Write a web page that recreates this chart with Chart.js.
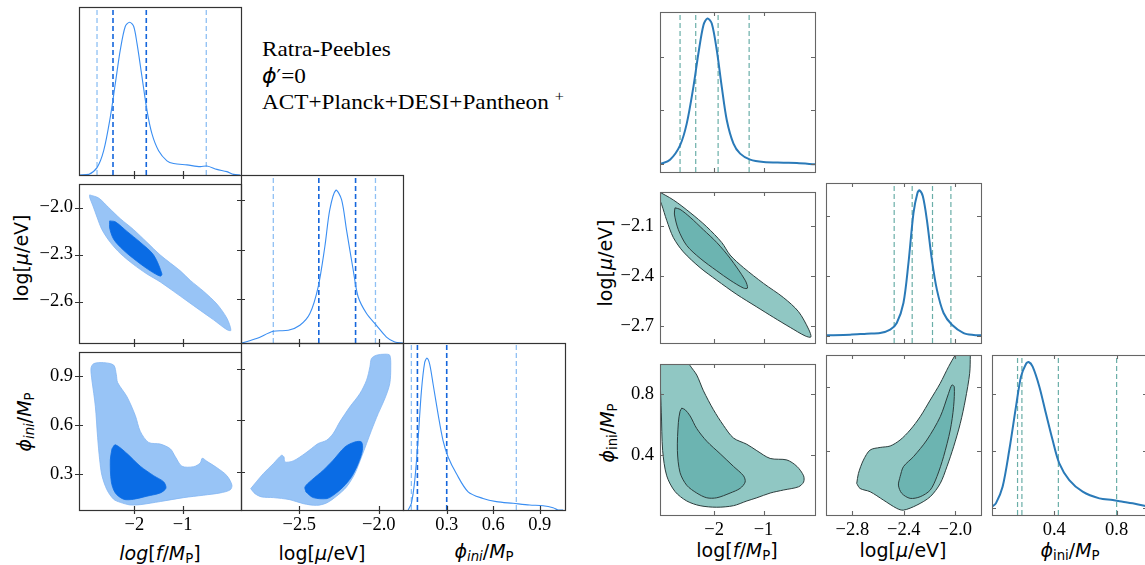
<!DOCTYPE html>
<html>
<head>
<meta charset="utf-8">
<script src="https://cdn.jsdelivr.net/npm/chart.js@4.4.1/dist/chart.umd.min.js"></script>
<style>
  html, body { margin: 0; padding: 0; background: #fff; width: 1145px; height: 565px; overflow: hidden; }
  canvas { position: absolute; }
  .t { position: absolute; font-family: "DejaVu Sans"; font-size: 19px; line-height: 1; color: #000;
       white-space: nowrap; transform: translate(-50%, -50%); }
  .t.r { transform: translate(-50%, -50%) rotate(-90deg); }
  .t sub { font-size: 0.7em; vertical-align: -0.3em; line-height: 0; }
  .note { position: absolute; left: 262px; top: 36px; font-family: "Liberation Serif", serif; font-size: 22px;
          line-height: 26.5px; color: #000; white-space: nowrap; transform: scaleX(1.055); transform-origin: left top; }
  .note sup { font-size: 0.7em; vertical-align: 0.55em; line-height: 0; }
</style>
</head>
<body>

<div class="note">Ratra-Peebles<br><i style="font-family:'DejaVu Sans';font-size:21px">ϕ</i><span style="font-family:'DejaVu Sans';font-size:19px">′</span>=0<br>ACT+Planck+DESI+Pantheon <sup>+</sup></div>

<div class="t" style="left:160px;top:553px"><i>log</i>[<i>f</i>/<i>M</i><sub>P</sub>]</div>
<div class="t" style="left:322px;top:553px">log[<i>μ</i>/eV]</div>
<div class="t" style="left:484px;top:551px"><i>ϕ<sub>ini</sub></i>/<i>M</i><sub>P</sub></div>
<div class="t r" style="left:21px;top:258px">log[<i>μ</i>/eV]</div>
<div class="t r" style="left:24px;top:422px"><i>ϕ<sub>ini</sub></i>/<i>M</i><sub>P</sub></div>

<div class="t" style="left:737px;top:550px">log[<i>f</i>/<i>M</i><sub>P</sub>]</div>
<div class="t" style="left:903px;top:550px">log[<i>μ</i>/eV]</div>
<div class="t" style="left:1070px;top:550px"><i>ϕ</i><sub>ini</sub>/<i>M</i><sub>P</sub></div>
<div class="t r" style="left:605px;top:263px">log[<i>μ</i>/eV]</div>
<div class="t r" style="left:607px;top:433px"><i>ϕ</i><sub>ini</sub>/<i>M</i><sub>P</sub></div>

<script>
// ---------- left corner plot (blue) ----------
// tick values
const lFTicks = [-2, -1];
const lMuTicks = [-2.5, -2.0];
const lPhiTicks = [0.3, 0.6, 0.9];
const lMuRowTicks = [-2.6, -2.3, -2.0];
const lPhiRowTicks = [0.3, 0.6, 0.9];
const lDensMuTicks = [0.287, 0.611, 0.938];

// 1D marginals
const lFGrid = [-3.145, -2.945, -2.772, -2.634, -2.497, -2.393, -2.290, -2.186, -2.097, -2.014, -1.945, -1.841,
                -1.738, -1.634, -1.497, -1.324, -1.186, -0.910, -0.634, -0.497, -0.290, -0.083, 0.055, 0.193];
const lFDens = [0, 0.004, 0.048, 0.159, 0.379, 0.599, 0.819, 0.974, 1.0, 0.974, 0.863, 0.643,
                0.423, 0.269, 0.159, 0.093, 0.075, 0.066, 0.055, 0.059, 0.037, 0.022, 0.004, 0];
const lMuGrid = [-2.862, -2.768, -2.663, -2.569, -2.496, -2.433, -2.381, -2.339, -2.308, -2.270, -2.234, -2.203,
                 -2.161, -2.130, -2.077, -2.015, -1.952, -1.900, -1.847];
const lMuDens = [0, 0.029, 0.077, 0.083, 0.116, 0.193, 0.368, 0.632, 0.873, 1.0, 0.939, 0.741,
                 0.478, 0.303, 0.193, 0.116, 0.039, 0.007, 0];
const lPhiGrid = [0.051, 0.072, 0.094, 0.115, 0.137, 0.158, 0.173, 0.190, 0.212, 0.244, 0.276, 0.309,
                  0.362, 0.438, 0.534, 0.620, 0.728, 0.835, 0.922, 0.986, 1.018, 1.051];
const lPhiDens = [0, 0.044, 0.197, 0.459, 0.786, 0.972, 1.0, 0.961, 0.830, 0.633, 0.459, 0.349,
                  0.240, 0.120, 0.076, 0.055, 0.044, 0.033, 0.028, 0.015, 0, 0];

// credible limits (68% dark, 95% light)
const lFLim68 = [-2.441, -1.752], lFLim95 = [-2.772, -0.510];
const lMuLim68 = [-2.377, -2.146], lMuLim95 = [-2.663, -2.021];
const lPhiLim68 = [0.111, 0.300], lPhiLim95 = [0.072, 0.749];

// 2D contours [x, y]
const lFMuOuter = [[-2.924,-1.919],[-2.738,-1.939],[-2.531,-2.000],[-2.290,-2.071],[-2.014,-2.141],[-1.738,-2.222],
  [-1.462,-2.303],[-1.255,-2.354],[-1.048,-2.404],[-0.841,-2.465],[-0.566,-2.535],[-0.290,-2.616],[-0.083,-2.707],
  [0.000,-2.784],[-0.083,-2.780],[-0.359,-2.717],[-0.634,-2.657],[-0.910,-2.596],[-1.186,-2.535],[-1.462,-2.475],
  [-1.738,-2.424],[-2.014,-2.364],[-2.290,-2.293],[-2.497,-2.222],[-2.669,-2.141],[-2.772,-2.061],[-2.855,-1.990],
  [-2.924,-1.935]];
const lFMuInner = [[-2.510,-2.085],[-2.393,-2.091],[-2.152,-2.152],[-1.876,-2.222],[-1.600,-2.303],[-1.428,-2.424],
  [-1.462,-2.438],[-1.669,-2.404],[-1.945,-2.343],[-2.221,-2.273],[-2.428,-2.202],[-2.510,-2.131]];
const lFPhiOuter = [[-2.876,0.872],[-2.897,0.949],[-2.841,0.978],[-2.634,0.984],[-2.428,0.969],[-2.372,0.910],
  [-2.345,0.862],[-2.152,0.775],[-1.979,0.659],[-1.876,0.562],[-1.703,0.494],[-1.462,0.484],[-1.255,0.455],
  [-1.152,0.407],[-1.014,0.348],[-0.772,0.345],[-0.634,0.368],[-0.593,0.397],[-0.497,0.378],[-0.290,0.339],
  [-0.083,0.290],[0.021,0.232],[-0.014,0.203],[-0.221,0.184],[-0.566,0.170],[-0.979,0.155],[-1.462,0.131],
  [-1.876,0.112],[-2.083,0.110],[-2.290,0.126],[-2.428,0.145],[-2.566,0.203],[-2.669,0.290],[-2.717,0.387],
  [-2.759,0.523],[-2.807,0.717]];
const lFPhiInner = [[-2.462,0.455],[-2.393,0.480],[-2.152,0.426],[-1.876,0.348],[-1.600,0.290],[-1.393,0.252],
  [-1.345,0.213],[-1.462,0.184],[-1.738,0.164],[-2.014,0.145],[-2.221,0.145],[-2.393,0.184],[-2.476,0.252],
  [-2.497,0.387]];
const lMuPhiOuter = [[-2.805,0.203],[-2.726,0.290],[-2.663,0.348],[-2.611,0.397],[-2.596,0.387],[-2.590,0.358],
  [-2.538,0.364],[-2.464,0.407],[-2.423,0.436],[-2.381,0.465],[-2.328,0.484],[-2.287,0.523],[-2.245,0.591],
  [-2.182,0.678],[-2.119,0.755],[-2.077,0.833],[-2.056,0.910],[-2.046,0.959],[-2.015,0.978],[-1.962,0.984],
  [-1.931,0.978],[-1.925,0.910],[-1.931,0.814],[-1.962,0.726],[-2.004,0.639],[-2.046,0.542],[-2.077,0.465],
  [-2.109,0.387],[-2.151,0.290],[-2.203,0.213],[-2.266,0.159],[-2.328,0.120],[-2.391,0.106],[-2.475,0.116],
  [-2.559,0.139],[-2.663,0.151],[-2.736,0.155],[-2.778,0.174]];
const lMuPhiInner = [[-2.458,0.184],[-2.464,0.213],[-2.423,0.252],[-2.349,0.310],[-2.287,0.368],[-2.213,0.445],
  [-2.151,0.474],[-2.109,0.474],[-2.103,0.426],[-2.130,0.348],[-2.172,0.271],[-2.224,0.213],[-2.287,0.164],
  [-2.328,0.145],[-2.412,0.151]];

// ---------- right corner plot (teal) ----------
const rFTicks = [-2, -1];
const rMuTicks = [-2.8, -2.4, -2.0];
const rPhiTicks = [0.4, 0.8];
const rMuRowTicks = [-2.7, -2.4, -2.1];
const rPhiRowTicks = [0.4, 0.8];
const rDensTicks = [0, 1, 2];

const rFGrid = [-3.095, -2.892, -2.689, -2.554, -2.419, -2.318, -2.216, -2.135, -2.047, -1.946, -1.845, -1.743,
                -1.608, -1.473, -1.270, -1.0, -0.595, -0.324, 0.041];
const rFDens = [-0.01, 0.075, 0.344, 0.75, 1.438, 2.063, 2.594, 2.719, 2.625, 2.125, 1.438, 0.813,
                0.375, 0.188, 0.075, 0.031, 0.019, 0.013, -0.013];
const rMuGrid = [-3.005, -2.818, -2.688, -2.584, -2.506, -2.455, -2.403, -2.364, -2.325, -2.294, -2.278, -2.252,
                 -2.221, -2.182, -2.143, -2.091, -2.026, -1.935, -1.857, -1.8];
const rMuDens = [0.006, 0.017, 0.033, 0.044, 0.1, 0.211, 0.544, 1.211, 2.044, 2.378, 2.422, 2.322,
                 1.933, 1.267, 0.767, 0.378, 0.183, 0.044, 0.011, 0.006];
const rPhiGrid = [0.0, 0.025, 0.068, 0.111, 0.154, 0.186, 0.218, 0.235, 0.261, 0.304, 0.346, 0.389,
                  0.432, 0.496, 0.582, 0.689, 0.775, 0.839, 0.903, 0.978, 1.0];
const rPhiDens = [0.029, 0.087, 0.378, 1.017, 1.773, 2.297, 2.517, 2.552, 2.471, 2.122, 1.657, 1.192,
                  0.785, 0.494, 0.291, 0.174, 0.145, 0.116, 0.087, 0.047, 0.04];

const rFLims = [-2.689, -2.372, -1.919, -1.291];
const rMuLims = [-2.475, -2.335, -2.177, -2.034];
const rPhiLims = [0.164, 0.192, 0.426, 0.8];

const rFMuOuter = [[-3.162,-1.889],[-2.824,-1.946],[-2.486,-2.021],[-2.149,-2.106],[-1.845,-2.200],[-1.676,-2.275],
  [-1.405,-2.350],[-1.0,-2.444],[-0.595,-2.529],[-0.291,-2.613],[-0.088,-2.717],[-0.041,-2.764],[-0.155,-2.758],
  [-0.459,-2.707],[-0.797,-2.647],[-1.135,-2.585],[-1.541,-2.510],[-1.946,-2.425],[-2.284,-2.350],[-2.622,-2.256],
  [-2.824,-2.171],[-2.959,-2.068],[-3.061,-1.974],[-3.162,-1.899]];
const rFMuInner = [[-2.791,-1.993],[-2.689,-2.002],[-2.486,-2.049],[-2.216,-2.124],[-1.946,-2.200],[-1.676,-2.294],
  [-1.372,-2.425],[-1.324,-2.472],[-1.405,-2.472],[-1.676,-2.425],[-1.946,-2.369],[-2.284,-2.294],[-2.554,-2.218],
  [-2.723,-2.124],[-2.804,-2.030]];
const rFPhiOuter = [[-3.128,1.027],[-2.554,1.027],[-2.486,0.986],[-2.351,0.924],[-2.216,0.821],[-2.014,0.697],
  [-1.811,0.594],[-1.608,0.511],[-1.338,0.470],[-1.135,0.428],[-0.865,0.377],[-0.527,0.367],[-0.324,0.325],
  [-0.189,0.263],[-0.189,0.222],[-0.291,0.191],[-0.595,0.170],[-0.865,0.150],[-1.135,0.119],[-1.338,0.098],
  [-1.608,0.067],[-1.946,0.057],[-2.284,0.067],[-2.554,0.098],[-2.791,0.160],[-2.959,0.263],[-3.041,0.428],
  [-3.068,0.676],[-3.095,0.883],[-3.128,0.965]];
const rFPhiInner = [[-2.655,0.707],[-2.588,0.697],[-2.486,0.656],[-2.351,0.573],[-2.149,0.490],[-1.878,0.408],
  [-1.608,0.325],[-1.405,0.263],[-1.372,0.222],[-1.473,0.181],[-1.676,0.150],[-1.946,0.119],[-2.149,0.119],
  [-2.351,0.150],[-2.554,0.201],[-2.689,0.284],[-2.743,0.428],[-2.723,0.614],[-2.689,0.686]];
const rMuPhiOuter = [[-2.766,0.201],[-2.753,0.263],[-2.714,0.346],[-2.662,0.408],[-2.584,0.424],[-2.506,0.433],
  [-2.429,0.470],[-2.351,0.532],[-2.273,0.614],[-2.195,0.717],[-2.117,0.821],[-2.052,0.924],[-2.000,0.996],
  [-1.961,1.037],[-1.883,1.037],[-1.883,0.996],[-1.888,0.883],[-1.922,0.717],[-1.961,0.573],[-2.013,0.428],
  [-2.065,0.305],[-2.117,0.201],[-2.195,0.119],[-2.299,0.067],[-2.403,0.036],[-2.455,0.047],[-2.558,0.098],
  [-2.662,0.150],[-2.740,0.170]];
const rMuPhiInner = [[-2.429,0.243],[-2.403,0.305],[-2.325,0.367],[-2.221,0.470],[-2.117,0.614],[-2.052,0.759],
  [-2.026,0.810],[-2.008,0.800],[-2.013,0.676],[-2.039,0.532],[-2.091,0.367],[-2.143,0.243],[-2.195,0.160],
  [-2.273,0.119],[-2.351,0.109],[-2.416,0.140],[-2.442,0.191]];

// ---------- drawing helpers ----------
const PAD_L = 60, PAD_R = 8, PAD_T = 8, PAD_B = 40;
const TICK_FONT = '"Liberation Serif", "Times New Roman", serif';
const fmt = (v, d) => v.toFixed(d).replace('-', '\u2212');

const framePlugin = {
  id: 'frame',
  afterDraw(chart, args, o) {
    const { ctx, chartArea: a, scales: { x, y } } = chart;
    ctx.save();
    ctx.strokeStyle = o.color;
    ctx.lineWidth = o.width;
    ctx.strokeRect(Math.round(a.left) + 0.5, Math.round(a.top) + 0.5,
                   Math.round(a.right - a.left), Math.round(a.bottom - a.top));
    const L = 4, out = o.mode === 'inout' ? L : 0;
    ctx.beginPath();
    x.ticks.forEach(t => {
      const p = Math.round(x.getPixelForValue(t.value)) + 0.5;
      if (o.x.includes('b')) { ctx.moveTo(p, a.bottom + out); ctx.lineTo(p, a.bottom - L); }
      if (o.x.includes('t')) { ctx.moveTo(p, a.top - out); ctx.lineTo(p, a.top + L); }
    });
    y.ticks.forEach(t => {
      const p = Math.round(y.getPixelForValue(t.value)) + 0.5;
      if (o.y.includes('l')) { ctx.moveTo(a.left - out, p); ctx.lineTo(a.left + L, p); }
      if (o.y.includes('r')) { ctx.moveTo(a.right + out, p); ctx.lineTo(a.right - L, p); }
    });
    ctx.stroke();
    ctx.restore();
  }
};

function axis(dir, range, ticks, dec, labels) {
  return {
    type: 'linear', min: range[0], max: range[1], bounds: 'data',
    grid: { display: false, drawTicks: false },
    border: { display: false },
    afterBuildTicks: s => { s.ticks = ticks.map(v => ({ value: v })); },
    afterFit: s => { if (dir === 'x') s.height = PAD_B; else s.width = PAD_L; },
    ticks: {
      display: labels, autoSkip: false, maxRotation: 0,
      padding: dir === 'x' ? 4 : 6,
      color: '#000',
      font: { family: TICK_FONT, size: 18.5 },
      callback: v => fmt(v, dec)
    }
  };
}

const pts = arr => arr.map(([x, y]) => ({ x, y }));
function region(arr, fill, line, lw, order) {
  const d = pts(arr);
  d.push(d[0]);
  return { data: d, fill: 'shape', backgroundColor: fill, borderColor: line, borderWidth: lw,
           pointRadius: 0, tension: 0.3, order };
}
function curve(xs, ys, color, lw) {
  return { data: xs.map((x, i) => ({ x, y: ys[i] })), fill: false, borderColor: color, borderWidth: lw,
           pointRadius: 0, tension: 0.3, order: 0 };
}
function vline(v, yr, color, lw) {
  return { data: [{ x: v, y: yr[0] }, { x: v, y: yr[1] }], fill: false, borderColor: color, borderWidth: lw,
           borderDash: [5, 3], pointRadius: 0, order: 1 };
}

function panel(box, x, y, datasets, frame) {
  const c = document.createElement('canvas');
  c.width = box[2] + PAD_L + PAD_R;
  c.height = box[3] + PAD_T + PAD_B;
  c.style.left = (box[0] - PAD_L) + 'px';
  c.style.top = (box[1] - PAD_T) + 'px';
  document.body.appendChild(c);
  new Chart(c, {
    type: 'line',
    data: { datasets },
    options: {
      responsive: false, animation: false, events: [],
      layout: { padding: { left: 0, right: PAD_R, top: PAD_T, bottom: 0 } },
      plugins: { legend: { display: false }, tooltip: { enabled: false }, frame },
      scales: { x, y }
    },
    plugins: [framePlugin]
  });
}

// ---------- left corner ----------
const lColX = [[79, 162], [241, 162], [403, 162]];
const lRowY = [[7, 168], [175, 168], [343, 167]];
const lXR = [[-3.145, 0.209], [-2.866, -1.848], [0.018, 1.063]];
const lYR = [null, [-2.865, -1.85], [0.079, 1.049]];
const lDensR = [0, 1.1];
const lBlueLight = '#98c4f6', lBlueDark = '#0a6ce5', lLine = '#3a8ef2';
const lDash68 = '#1566dc', lDash95 = '#8fc0f4';
const lFrame = (xs, ys) => ({ color: '#333', width: 1.2, mode: 'inout', x: xs, y: ys });
const lBox = (r, c) => [lColX[c][0], lRowY[r][0], lColX[c][1], lRowY[r][1]];

panel(lBox(0, 0), axis('x', lXR[0], lFTicks, 0, false), axis('y', lDensR, [], 1, false), [
  curve(lFGrid, lFDens, lLine, 1.1),
  ...lFLim68.map(v => vline(v, lDensR, lDash68, 1.6)),
  ...lFLim95.map(v => vline(v, lDensR, lDash95, 1.3))
], lFrame('b', ''));

panel(lBox(1, 0), axis('x', lXR[0], lFTicks, 0, false), axis('y', lYR[1], lMuRowTicks, 1, true), [
  region(lFMuInner, lBlueDark, lBlueDark, 0.8, 0),
  region(lFMuOuter, lBlueLight, '#84b6f2', 0.8, 1)
], lFrame('b', 'l'));

panel(lBox(1, 1), axis('x', lXR[1], lMuTicks, 1, false), axis('y', lDensR, lDensMuTicks, 1, false), [
  curve(lMuGrid, lMuDens, lLine, 1.1),
  ...lMuLim68.map(v => vline(v, lDensR, lDash68, 1.6)),
  ...lMuLim95.map(v => vline(v, lDensR, lDash95, 1.3))
], lFrame('b', 'l'));

panel(lBox(2, 0), axis('x', lXR[0], lFTicks, 0, true), axis('y', lYR[2], lPhiRowTicks, 1, true), [
  region(lFPhiInner, lBlueDark, lBlueDark, 0.8, 0),
  region(lFPhiOuter, lBlueLight, '#84b6f2', 0.8, 1)
], lFrame('b', 'l'));

panel(lBox(2, 1), axis('x', lXR[1], lMuTicks, 1, true), axis('y', lYR[2], lPhiRowTicks, 1, false), [
  region(lMuPhiInner, lBlueDark, lBlueDark, 0.8, 0),
  region(lMuPhiOuter, lBlueLight, '#84b6f2', 0.8, 1)
], lFrame('b', 'l'));

panel(lBox(2, 2), axis('x', lXR[2], lPhiTicks, 1, true), axis('y', lDensR, [], 1, false), [
  curve(lPhiGrid, lPhiDens, lLine, 1.1),
  ...lPhiLim68.map(v => vline(v, lDensR, lDash68, 1.6)),
  ...lPhiLim95.map(v => vline(v, lDensR, lDash95, 1.3))
], lFrame('b', ''));

// ---------- right corner ----------
const rColX = [[660, 155], [826, 155], [992, 155]];
const rRowY = [[12, 160], [183, 160], [355, 160]];
const rXR = [[-3.095, 0.042], [-3.005, -1.8], [0.0, 0.995]];
const rYR = [null, [-2.8, -1.899], [0.006, 0.996]];
const rDensR = [[-0.156, 2.84], [-0.122, 2.544], [-0.116, 2.674]];
const rOuter = '#90c7c3', rInner = '#6cb4b1', rEdge = '#2c3d3d', rLine = '#2a7ab8', rDash = '#6aaea8';
const rFrame = { color: '#666', width: 1.1, mode: 'in', x: 'bt', y: 'lr' };
const rBox = (r, c) => [rColX[c][0], rRowY[r][0], rColX[c][1], rRowY[r][1]];

panel(rBox(0, 0), axis('x', rXR[0], rFTicks, 0, false), axis('y', rDensR[0], rDensTicks, 0, false), [
  curve(rFGrid, rFDens, rLine, 2),
  ...rFLims.map(v => vline(v, rDensR[0], rDash, 1.2))
], rFrame);

panel(rBox(1, 0), axis('x', rXR[0], rFTicks, 0, false), axis('y', rYR[1], rMuRowTicks, 1, true), [
  region(rFMuInner, rInner, rEdge, 1, 0),
  region(rFMuOuter, rOuter, rEdge, 1, 1)
], rFrame);

panel(rBox(1, 1), axis('x', rXR[1], rMuTicks, 1, false), axis('y', rDensR[1], rDensTicks, 0, false), [
  curve(rMuGrid, rMuDens, rLine, 2),
  ...rMuLims.map(v => vline(v, rDensR[1], rDash, 1.2))
], rFrame);

panel(rBox(2, 0), axis('x', rXR[0], rFTicks, 0, true), axis('y', rYR[2], rPhiRowTicks, 1, true), [
  region(rFPhiInner, rInner, rEdge, 1, 0),
  region(rFPhiOuter, rOuter, rEdge, 1, 1)
], rFrame);

panel(rBox(2, 1), axis('x', rXR[1], rMuTicks, 1, true), axis('y', rYR[2], rPhiRowTicks, 1, false), [
  region(rMuPhiInner, rInner, rEdge, 1, 0),
  region(rMuPhiOuter, rOuter, rEdge, 1, 1)
], rFrame);

panel(rBox(2, 2), axis('x', rXR[2], rPhiTicks, 1, true), axis('y', rDensR[2], rDensTicks, 0, false), [
  curve(rPhiGrid, rPhiDens, rLine, 2),
  ...rPhiLims.map(v => vline(v, rDensR[2], rDash, 1.2))
], rFrame);
</script>
</body>
</html>
